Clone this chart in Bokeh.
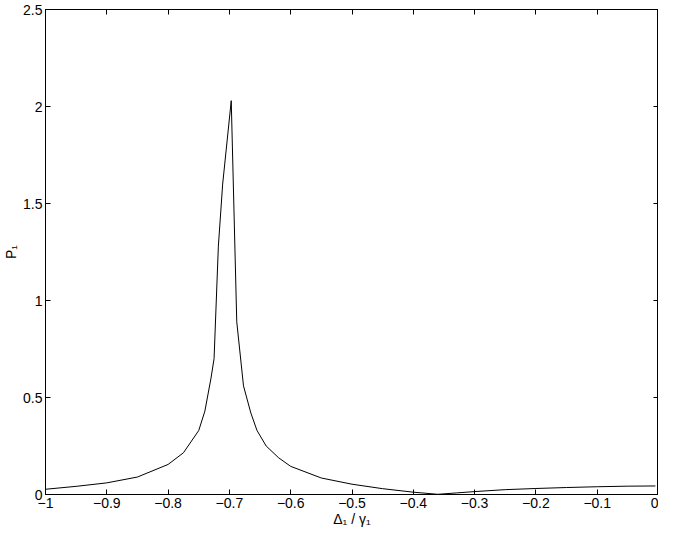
from bokeh.plotting import figure
from bokeh.models import LinearAxis, FixedTicker, Range1d
from bokeh.embed import file_html
from bokeh.resources import INLINE

# data
detuning = [-1.0, -0.95, -0.9, -0.85, -0.8, -0.775, -0.75, -0.74, -0.73, -0.725,
            -0.718, -0.711, -0.697, -0.688, -0.677, -0.665, -0.655, -0.64, -0.62,
            -0.6, -0.55, -0.5, -0.45, -0.4, -0.36, -0.33, -0.3, -0.25, -0.2,
            -0.15, -0.1, -0.05, -0.005]
p1 = [0.027, 0.042, 0.060, 0.090, 0.155, 0.215, 0.33, 0.43, 0.60, 0.70,
      1.28, 1.60, 2.03, 0.89, 0.56, 0.42, 0.33, 0.25, 0.19,
      0.145, 0.085, 0.053, 0.030, 0.012, 0.001, 0.008, 0.015, 0.025, 0.031,
      0.036, 0.040, 0.043, 0.044]

x_ticks = [-1.0, -0.9, -0.8, -0.7, -0.6, -0.5, -0.4, -0.3, -0.2, -0.1, 0.0]
x_tick_labels = ["\u22121", "\u22120.9", "\u22120.8", "\u22120.7", "\u22120.6", "\u22120.5",
                 "\u22120.4", "\u22120.3", "\u22120.2", "\u22120.1", "0"]
y_ticks = [0.0, 0.5, 1.0, 1.5, 2.0, 2.5]
y_tick_labels = ["0", "0.5", "1", "1.5", "2", "2.5"]

FONT = "Liberation Sans"

p = figure(width=658, height=530, output_backend="svg", toolbar_location=None,
           x_range=Range1d(-1, 0), y_range=Range1d(0, 2.5),
           min_border_left=36, min_border_right=0, min_border_top=9, min_border_bottom=36)
p.background_fill_color = "white"
p.border_fill_color = "white"
p.outline_line_color = "black"
p.outline_line_width = 1
p.grid.visible = False

p.line(detuning, p1, line_color="black", line_width=1)

def style(ax, ticks, labels, show_labels=True):
    ax.ticker = FixedTicker(ticks=ticks)
    if show_labels:
        ax.major_label_overrides = {t: l for t, l in zip(ticks, labels)}
    else:
        ax.major_label_overrides = {t: "" for t in ticks}
    ax.major_tick_in = 5
    ax.major_tick_out = 0
    ax.minor_tick_line_color = None
    ax.axis_line_color = "black"
    ax.major_tick_line_color = "black"
    ax.major_label_text_font = FONT
    ax.major_label_text_font_size = "14px"
    ax.major_label_text_color = "black"
    ax.axis_label_text_font = FONT
    ax.axis_label_text_font_size = "14px"
    ax.axis_label_text_font_style = "normal"
    ax.axis_label_text_color = "black"

style(p.xaxis[0], x_ticks, x_tick_labels)
style(p.yaxis[0], y_ticks, y_tick_labels)
p.xaxis[0].axis_label = "\u0394\u2081 / \u03b3\u2081"
p.yaxis[0].axis_label = "P\u2081"
p.xaxis[0].major_label_standoff = 3
p.xaxis[0].axis_label_standoff = 0
p.yaxis[0].major_label_standoff = 3
p.yaxis[0].axis_label_standoff = 1

top = LinearAxis()
style(top, x_ticks, x_tick_labels, show_labels=False)
top.major_label_standoff = 0
p.add_layout(top, "above")
right = LinearAxis()
style(right, y_ticks, y_tick_labels, show_labels=False)
right.major_label_standoff = 0
p.add_layout(right, "right")

open("out.html", "w").write(file_html(p, INLINE))
